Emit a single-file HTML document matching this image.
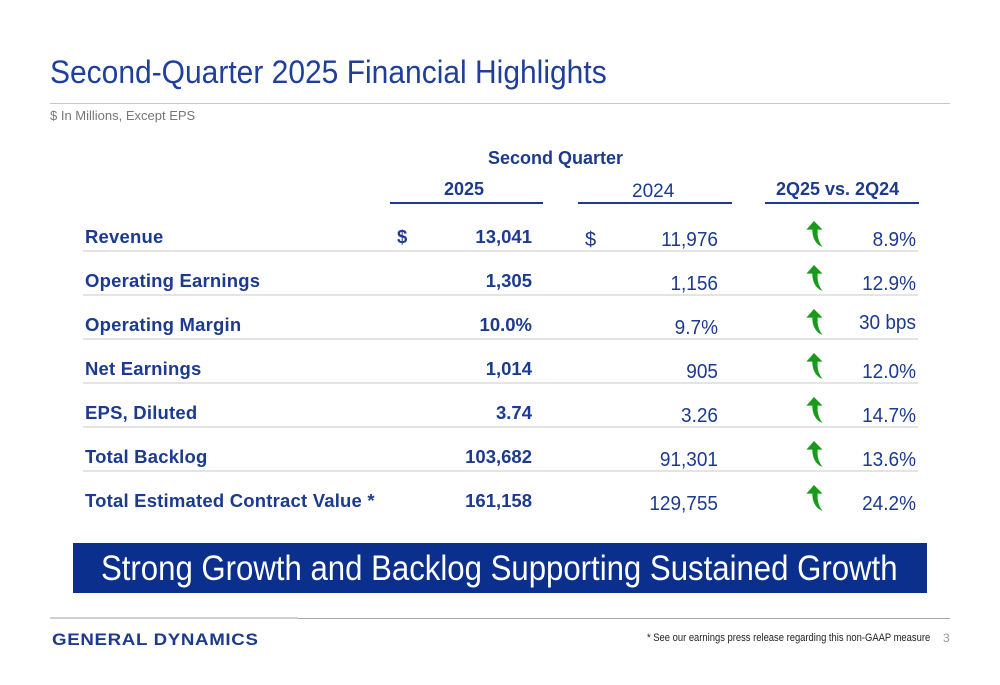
<!DOCTYPE html>
<html><head><meta charset="utf-8">
<style>
body{margin:0;width:1000px;height:685px;background:#fff;position:relative;overflow:hidden;font-family:"Liberation Sans",Arial,sans-serif;color:#1c3a8e}
.a{position:absolute;white-space:nowrap}
.sx{transform-origin:left top}
.lbl{font-weight:bold;font-size:18.5px;color:#1c3a8e;letter-spacing:.2px}
.v25{font-weight:bold;font-size:18.5px;text-align:right;width:120px}
.v24{font-size:20px;text-align:right;width:120px;transform:scaleX(.95);transform-origin:right top}
.pct{font-size:20px;text-align:right;width:100px;transform:scaleX(.95);transform-origin:right top}
.div{position:absolute;left:83px;width:835px;height:2px;background:#e4e4e4}
</style></head><body>
<div class="a sx" style="left:50px;top:54px;font-size:32px;color:#1f3f9a;transform:scaleX(.937)">Second-Quarter 2025 Financial Highlights</div>
<div class="a" style="left:50px;top:103px;width:900px;height:1px;background:#c8c8c8"></div>
<div class="a" style="left:50px;top:108px;font-size:13px;color:#777">$ In Millions, Except EPS</div>
<div class="a" style="left:488px;top:148px;font-size:18px;font-weight:bold">Second Quarter</div>
<div class="a" style="left:444px;top:179px;font-size:18px;font-weight:bold">2025</div>
<div class="a" style="left:632px;top:181px;font-size:19px">2024</div>
<div class="a" style="left:776px;top:179px;font-size:18px;font-weight:bold">2Q25 vs. 2Q24</div>
<div class="a" style="left:390px;top:202px;width:153px;height:2px;background:#1c3a8e"></div>
<div class="a" style="left:578px;top:202px;width:154px;height:2px;background:#1c3a8e"></div>
<div class="a" style="left:765px;top:202px;width:154px;height:2px;background:#1c3a8e"></div>
<div class="a" style="left:397px;top:226px;font-size:18.5px;font-weight:bold">$</div>
<div class="a" style="left:585px;top:229px;font-size:20px">$</div>
<div id="rows"></div>
<div class="a" style="left:73px;top:543px;width:854px;height:50px;background:#0b2f8c"></div>
<div class="a" style="left:101px;top:549px;font-size:35px;color:#fff;transform:scaleX(.89);transform-origin:left top">Strong Growth and Backlog Supporting Sustained Growth</div>
<div class="a" style="left:50px;top:617px;width:248px;height:2px;background:#d0d0d0"></div>
<div class="a" style="left:298px;top:618px;width:652px;height:1px;background:#a8a8a8"></div>
<div class="a" style="left:52px;top:630px;font-size:17px;font-weight:900;color:#1c3a8e;letter-spacing:.6px;transform:scaleX(1.1);transform-origin:left top">GENERAL DYNAMICS</div>
<div class="a" style="left:647px;top:632px;font-size:11px;color:#222;transform:scaleX(.855);transform-origin:left top">* See our earnings press release regarding this non-GAAP measure</div>
<div class="a" style="left:943px;top:631px;font-size:12px;color:#999">3</div>
<script>
const labels=["Revenue","Operating Earnings","Operating Margin","Net Earnings","EPS, Diluted","Total Backlog","Total Estimated Contract Value *"];
const values2025=["13,041","1,305","10.0%","1,014","3.74","103,682","161,158"];
const values2024=["11,976","1,156","9.7%","905","3.26","91,301","129,755"];
const changes=["8.9%","12.9%","30 bps","12.0%","14.7%","13.6%","24.2%"];
const root=document.getElementById('rows');
const top0=226, step=44;
labels.forEach((l,i)=>{
  const y=top0+i*step;
  const lab=document.createElement('div');lab.className='a lbl';lab.style.left='85px';lab.style.top=y+'px';lab.textContent=l;
  
  
  root.appendChild(lab);
  const a=document.createElement('div');a.className='a v25';a.style.left='412px';a.style.top=y+'px';a.textContent=values2025[i];
  
  
  root.appendChild(a);
  const b=document.createElement('div');b.className='a v24';b.style.left='598px';b.style.top=(y+3)+'px';b.textContent=values2024[i];
  
  
  root.appendChild(b);
  const c=document.createElement('div');c.className='a pct';c.style.left='816px';c.style.top=(y+(i==2?-2:3))+'px';c.textContent=changes[i];
  
  
  root.appendChild(c);
  const ar=document.createElement('div');ar.className='a';ar.style.left='804px';ar.style.top=(y-5)+'px';
  ar.innerHTML='<svg width="22" height="28" viewBox="0 0 20 26"><path d="M9 0 L17 8 L12.5 8 C12 14 13 19 17 24 C11 22 7.5 16 7.5 8 L2 8 Z" fill="#1a9a1a"/></svg>';
  
  
  root.appendChild(ar);
  if(i<6){const d=document.createElement('div');d.className='div';d.style.top=(y+24)+'px';
  
  
  root.appendChild(d);}
});
</script>
</body></html>
